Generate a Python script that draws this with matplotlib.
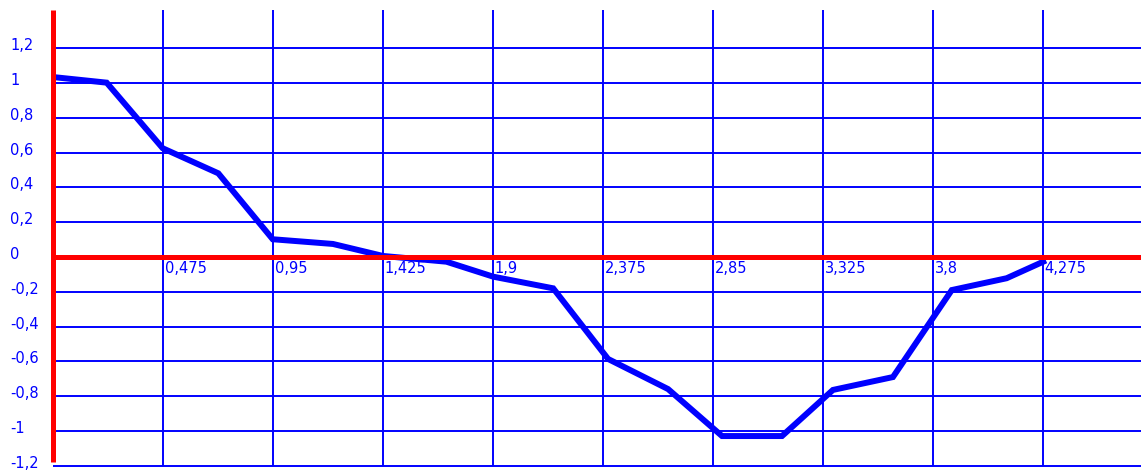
import matplotlib
matplotlib.use("Agg")
import matplotlib.pyplot as plt

# ---- data ----
x_vals = [0.01, 0.233, 0.475, 0.715, 0.95, 1.21, 1.426, 1.70, 1.902, 2.161,
          2.398, 2.657, 2.890, 3.149, 3.369, 3.628, 3.882, 4.119, 4.277]
y_vals = [1.033, 1.002, 0.625, 0.481, 0.102, 0.075, 0.006, -0.027, -0.113, -0.18,
          -0.586, -0.759, -1.029, -1.029, -0.764, -0.69, -0.19, -0.122, -0.027]

x_ticks = [0.475, 0.95, 1.425, 1.9, 2.375, 2.85, 3.325, 3.8, 4.275]
x_labels = ["0,475", "0,95", "1,425", "1,9", "2,375", "2,85", "3,325", "3,8", "4,275"]
y_ticks = [1.2, 1.0, 0.8, 0.6, 0.4, 0.2, 0.0, -0.2, -0.4, -0.6, -0.8, -1.0, -1.2]
y_labels = ["1,2", "1", "0,8", "0,6", "0,4", "0,2", "0", "-0,2", "-0,4", "-0,6", "-0,8", "-1", "-1,2"]

# ---- figure ----
W, H = 1141, 471
fig = plt.figure(figsize=(W / 100, H / 100), dpi=100)
ax = fig.add_axes([0, 0, 1, 1])
ax.set_axis_off()

px_per_x = 231.6
px_per_y = 174.0
x0_px = 52.7
y0_px = 257.0
xmin = -x0_px / px_per_x
xmax = (W - x0_px) / px_per_x
ymax = y0_px / px_per_y
ymin = (y0_px - H) / px_per_y
ax.set_xlim(xmin, xmax)
ax.set_ylim(ymin, ymax)

top = (y0_px - 10) / px_per_y
blue = "#0000ff"
red = "#ff0000"

# grid
ax.vlines(x_ticks, -1.2, top, colors=blue, lw=1.4, zorder=1)
for yt in y_ticks:
    if yt != 0:
        ax.hlines(yt, 0, xmax, colors=blue, lw=1.4, zorder=1)

# data line
ax.plot(x_vals, y_vals, color=blue, lw=4.3, solid_joinstyle="miter", zorder=2)

# red axes
ax.vlines(0, -1.18, top, colors=red, lw=3.6, zorder=3)
ax.hlines(0, 0, xmax, colors=red, lw=3.6, zorder=3)

# labels
fs = 10.5
for yt, lab in zip(y_ticks, y_labels):
    ax.text(10 / px_per_x + xmin, yt + 2.5 / px_per_y, lab, color=blue, fontsize=fs,
            ha="left", va="center", family="DejaVu Sans", zorder=4)
for xt, lab in zip(x_ticks, x_labels):
    ax.text(xt + 2 / px_per_x, -4 / px_per_y, lab, color=blue, fontsize=fs,
            ha="left", va="top", family="DejaVu Sans", zorder=4)

fig.savefig("out.png", dpi=100)
